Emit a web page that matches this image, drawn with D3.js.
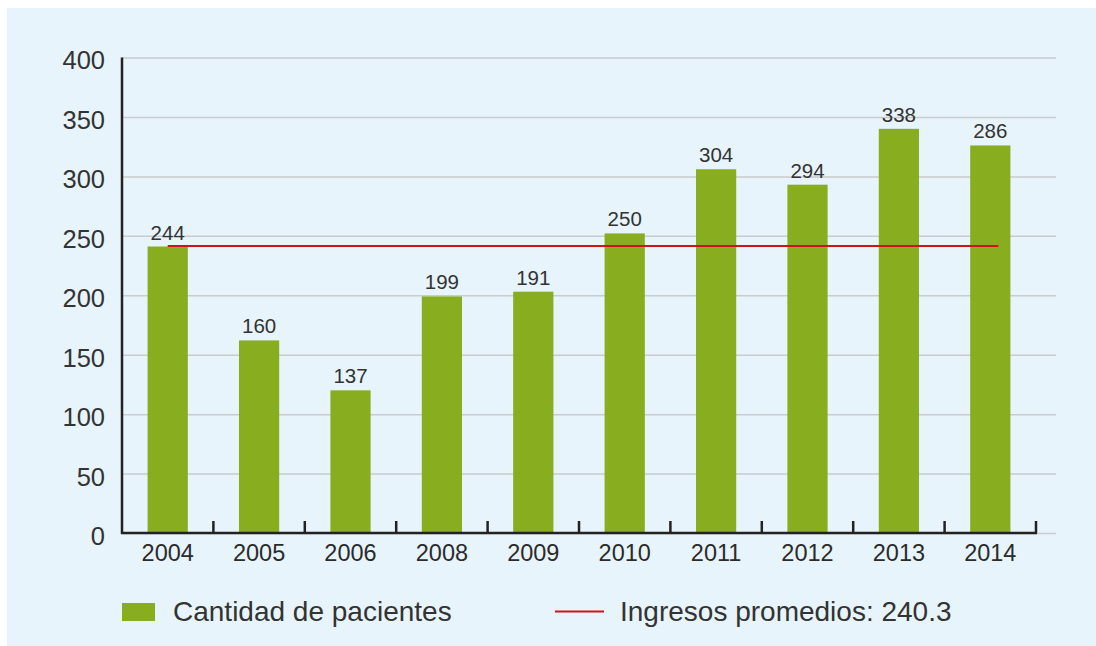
<!DOCTYPE html>
<html>
<head>
<meta charset="utf-8">
<style>
  body { margin: 0; background: #fff; }
  svg { display: block; font-family: "Liberation Sans", Arial, sans-serif; }
  .grid line { stroke: #c9cbcd; stroke-width: 1.5px; }
  .grid path { display: none; }
  .ylab text { font-size: 25.5px; fill: #333; }
  .xlab text { font-size: 23.5px; fill: #2b2b2b; }
  .lbl { font-size: 20.5px; fill: #333; text-anchor: middle; }
  .avg { fill: none; stroke: #d0121b; stroke-width: 2px; }
  .leg { font-size: 28px; fill: #333; }
</style>
</head>
<body>

<div id="chart"></div>

<script src="https://d3js.org/d3.v7.min.js"></script>
<script>

// data
var years = ["2004", "2005", "2006", "2008", "2009", "2010", "2011", "2012", "2013", "2014"];
var barValues = [241, 162, 120, 199, 203, 252, 306, 293, 340, 326];   // bar heights as drawn
var barLabels = ["244", "160", "137", "199", "191", "250", "304", "294", "338", "286"]; // printed labels
var avgValue = 241.5;
var avgLabel = "240.3";
var yTicks = [0, 50, 100, 150, 200, 250, 300, 350, 400];

var seriesName = "Cantidad de pacientes";
var avgName = "Ingresos promedios: ";

// dimensions
var W = 1096, H = 646;
var margin = {top: 57.5, left: 122},
    width = 914,
    gridWidth = 934,
    height = 475.5;

var svg = d3.select("#chart").append("svg")
    .attr("width", W)
    .attr("height", H);

// light blue panel
svg.append("rect")
    .attr("x", 7).attr("y", 8)
    .attr("width", W - 7).attr("height", H - 8)
    .attr("fill", "#e7f4fc");

var g = svg.append("g")
    .attr("transform", "translate(" + margin.left + "," + margin.top + ")");

// scales
var x = d3.scaleBand().domain(years).range([0, width])
    .paddingInner(0.56).paddingOuter(0.28);
var y = d3.scaleLinear().domain([0, 400]).range([height, 0]);

// gridlines
g.append("g")
    .attr("class", "grid")
    .call(d3.axisLeft(y).tickValues(yTicks).tickSize(-gridWidth).tickFormat(""));

// y labels
g.append("g")
    .attr("class", "ylab")
    .call(d3.axisLeft(y).tickValues(yTicks).tickSize(0).tickPadding(17))
    .call(function(s) { s.select(".domain").remove(); })
    .selectAll("text").attr("dy", "0.45em");

// bars
var data = years.map(function(d, i) { return {year: d, value: barValues[i], label: barLabels[i]}; });

g.selectAll(".bar")
    .data(data)
  .enter().append("rect")
    .attr("class", "bar")
    .attr("x", function(d) { return x(d.year); })
    .attr("y", function(d) { return y(d.value); })
    .attr("width", x.bandwidth())
    .attr("height", function(d) { return height - y(d.value); })
    .attr("fill", "#88ad1e");

// value labels
g.selectAll(".lbl")
    .data(data)
  .enter().append("text")
    .attr("class", "lbl")
    .attr("x", function(d) { return x(d.year) + x.bandwidth() / 2; })
    .attr("y", function(d) { return y(d.value) - 7; })
    .text(function(d) { return d.label; });

// average line
g.append("path")
    .datum([years[0], years[years.length - 1]])
    .attr("class", "avg")
    .attr("d", function(d) {
      var x0 = x(d[0]) + x.bandwidth() / 2,
          x1 = x(d[1]) + x.bandwidth() / 2 + 8;
      return "M" + x0 + "," + y(avgValue) + "H" + x1;
    });

// axes lines
g.append("line")
    .attr("x1", 0).attr("x2", 0)
    .attr("y1", y(400)).attr("y2", y(0) + 1)
    .attr("stroke", "#222").attr("stroke-width", 2.5);

g.append("line")
    .attr("x1", -1).attr("x2", width + 1)
    .attr("y1", y(0)).attr("y2", y(0))
    .attr("stroke", "#222").attr("stroke-width", 2.5);

// boundary ticks between categories
g.selectAll(".btick")
    .data(years)
  .enter().append("line")
    .attr("class", "btick")
    .attr("x1", function(d, i) { return (i + 1) * x.step(); })
    .attr("x2", function(d, i) { return (i + 1) * x.step(); })
    .attr("y1", y(0))
    .attr("y2", y(0) - 12)
    .attr("stroke", "#222").attr("stroke-width", 2.5);

// x labels
g.append("g")
    .attr("class", "xlab")
    .attr("transform", "translate(0," + height + ")")
    .call(d3.axisBottom(x).tickSize(0).tickPadding(11))
    .call(function(s) { s.select(".domain").remove(); });

// legend
var leg = svg.append("g");
leg.append("rect")
    .attr("x", 122).attr("y", 603)
    .attr("width", 33).attr("height", 18)
    .attr("fill", "#88ad1e");
leg.append("text")
    .attr("class", "leg")
    .attr("x", 173).attr("y", 621)
    .text(seriesName);
leg.append("line")
    .attr("x1", 555).attr("x2", 604)
    .attr("y1", 611.5).attr("y2", 611.5)
    .attr("stroke", "#d0121b").attr("stroke-width", 2);
leg.append("text")
    .attr("class", "leg")
    .attr("x", 620).attr("y", 621)
    .text(avgName + avgLabel);

</script>
</body>
</html>
